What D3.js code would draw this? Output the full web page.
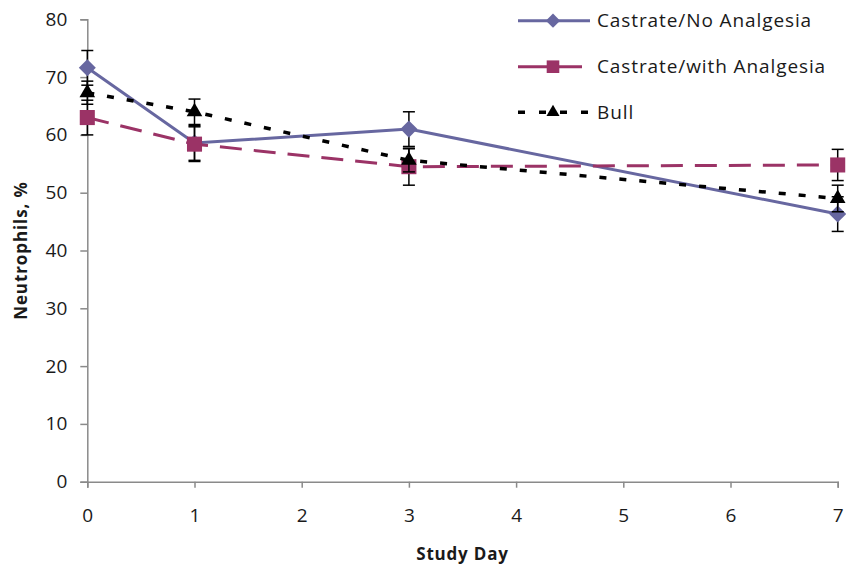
<!DOCTYPE html>
<html>
<head>
<meta charset="utf-8">
<script src="https://cdn.jsdelivr.net/npm/d3@7"></script>
<style>
  html, body { margin: 0; padding: 0; background: #fff; }
  svg { display: block; }
  text { font-family: "Open Sans", Lato, "Liberation Sans", sans-serif; fill: #1a1a1a; }
</style>
</head>
<body>
<svg id="chart" width="846" height="569"></svg>
<script>
// Neutrophil percentage by study day, mean with standard error
const days = [0, 1, 3, 7];
const castrateNoAnalgesia = [71.6, 58.6, 61.0, 46.3];
const castrateNoAnalgesiaSE = [3.0, 3.0, 3.0, 3.0];
const castrateWithAnalgesia = [63.0, 58.4, 54.5, 54.8];
const castrateWithAnalgesiaSE = [3.0, 3.0, 3.2, 2.7];
const bull = [67.3, 64.0, 55.6, 49.0];
const bullSE = [2.0, 2.2, 2.0, 2.3];
const xTicks = [0, 1, 2, 3, 4, 5, 6, 7];
const yTicks = [0, 10, 20, 30, 40, 50, 60, 70, 80];
const seriesNames = ["Castrate/No Analgesia", "Castrate/with Analgesia", "Bull"];

const series = [
  { name: seriesNames[0], values: castrateNoAnalgesia, se: castrateNoAnalgesiaSE,
    color: "#6767a0", dash: null, width: 3, symbol: d3.symbolDiamond2, size: 185 },
  { name: seriesNames[1], values: castrateWithAnalgesia, se: castrateWithAnalgesiaSE,
    color: "#9b3366", dash: "22,12", width: 3, symbol: d3.symbolSquare2, size: 289 },
  { name: seriesNames[2], values: bull, se: bullSE,
    color: "#000000", dash: "7,13", width: 3.5, symbol: d3.symbolTriangle2, size: 175 }
];

const svg = d3.select("#chart");
const margin = { top: 19.3, right: 8.3, bottom: 87.3, left: 87.3 };
const W = 846, H = 569;

const x = d3.scaleLinear().domain([0, 7]).range([margin.left, W - margin.right]);
const y = d3.scaleLinear().domain([0, 80]).range([H - margin.bottom, margin.top]);

const axisColor = "#8a8a8a";
const tickFont = "19px";

// Y axis
const yAxis = svg.append("g")
  .attr("transform", `translate(${margin.left},0)`)
  .call(d3.axisLeft(y).tickValues(yTicks).tickSize(7).tickPadding(13).tickFormat(d3.format("d")));
yAxis.select(".domain").attr("stroke", axisColor).attr("stroke-width", 1.5);
yAxis.selectAll(".tick line").attr("stroke", axisColor).attr("stroke-width", 1.5);
yAxis.selectAll(".tick text").style("font-size", tickFont).attr("fill", "#1a1a1a");

// X axis
const xAxis = svg.append("g")
  .attr("transform", `translate(0,${H - margin.bottom})`)
  .call(d3.axisBottom(x).tickValues(xTicks).tickSize(6).tickPadding(21).tickFormat(d3.format("d")));
xAxis.select(".domain").attr("stroke", axisColor).attr("stroke-width", 1.5);
xAxis.selectAll(".tick line").attr("stroke", axisColor).attr("stroke-width", 1.5);
xAxis.selectAll(".tick text").style("font-size", tickFont).attr("fill", "#1a1a1a");

// Axis titles
svg.append("text")
  .attr("x", (x(0) + x(7)) / 2).attr("y", 560)
  .attr("text-anchor", "middle")
  .style("font-size", "17px").style("font-weight", "bold").style("letter-spacing", "0.8px")
  .text("Study Day");

svg.append("text")
  .attr("transform", `translate(27,${(y(0) + y(80)) / 2}) rotate(-90)`)
  .attr("text-anchor", "middle")
  .style("font-size", "17px").style("font-weight", "bold").style("letter-spacing", "0.9px")
  .text("Neutrophils, %");

const line = d3.line().x(d => x(d.day)).y(d => y(d.v));

series.forEach(s => {
  const pts = days.map((day, i) => ({ day, v: s.values[i], se: s.se[i] }));
  const g = svg.append("g");

  g.append("path")
    .datum(pts)
    .attr("d", line)
    .attr("fill", "none")
    .attr("stroke", s.color)
    .attr("stroke-width", s.width)
    .attr("stroke-dasharray", s.dash);

  // error bars
  const eb = g.selectAll(".eb").data(pts).join("g");
  eb.append("line")
    .attr("x1", d => x(d.day)).attr("x2", d => x(d.day))
    .attr("y1", d => y(d.v + d.se)).attr("y2", d => y(d.v - d.se))
    .attr("stroke", "#000").attr("stroke-width", 1.5);
  [1, -1].forEach(sign => {
    eb.append("line")
      .attr("x1", d => x(d.day) - 6).attr("x2", d => x(d.day) + 6)
      .attr("y1", d => y(d.v + sign * d.se)).attr("y2", d => y(d.v + sign * d.se))
      .attr("stroke", "#000").attr("stroke-width", 1.5);
  });

  g.selectAll(".m").data(pts).join("path")
    .attr("transform", d => `translate(${x(d.day)},${y(d.v)})`)
    .attr("d", d3.symbol().type(s.symbol).size(s.size))
    .attr("fill", s.color);
});

// Legend
const legendRows = [20.7, 66.7, 112.3];
series.forEach((s, i) => {
  const g = svg.append("g").attr("transform", `translate(0,${legendRows[i]})`);
  if (i === 2) {
    g.append("line").attr("x1", 518).attr("x2", 594).attr("y1", 0).attr("y2", 0)
      .attr("stroke", s.color).attr("stroke-width", s.width).attr("stroke-dasharray", "7,14");
  } else {
    g.append("line").attr("x1", 518).attr("x2", i === 0 ? 590 : 582).attr("y1", 0).attr("y2", 0)
      .attr("stroke", s.color).attr("stroke-width", s.width);
  }
  g.append("path")
    .attr("transform", "translate(553,0)")
    .attr("d", d3.symbol().type(s.symbol).size(s.size * 0.7))
    .attr("fill", s.color);
  g.append("text")
    .attr("x", 597).attr("y", 0).attr("dy", "0.35em")
    .style("font-size", "19px").style("letter-spacing", "0.9px")
    .text(s.name);
});
</script>
</body>
</html>
